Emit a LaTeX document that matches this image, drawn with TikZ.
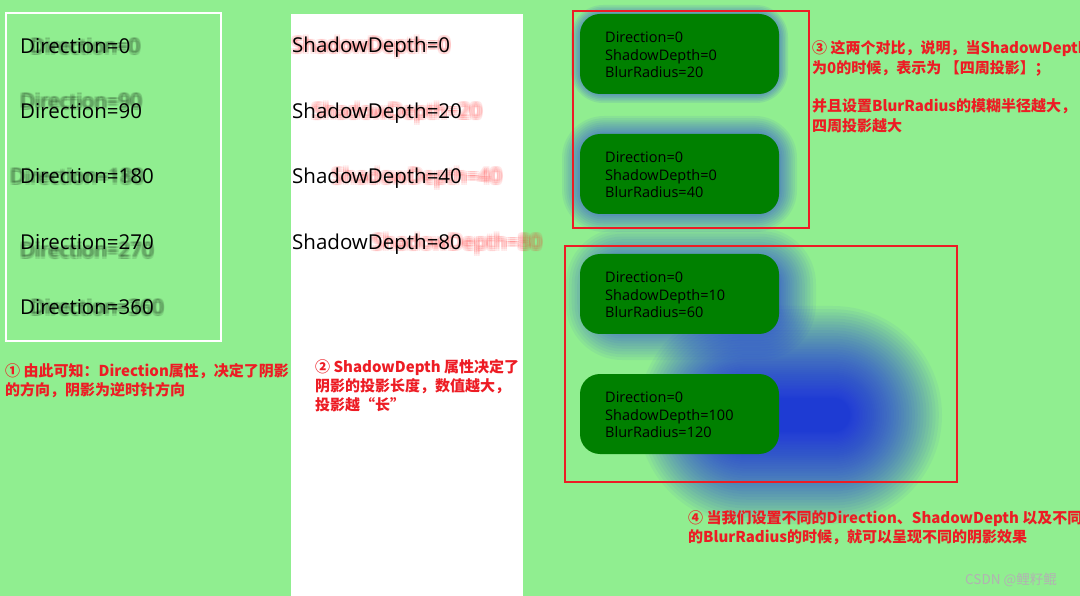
\documentclass[tikz,border=0pt]{standalone}
\usepackage{fontspec}
\setmainfont{Open Sans}
\newfontfamily\cjk{Noto Sans CJK SC}
\definecolor{bg}{RGB}{144,238,144}
\definecolor{boxgreen}{RGB}{0,128,0}
\definecolor{annot}{RGB}{237,28,36}
\definecolor{glowblue}{RGB}{30,50,230}
\definecolor{shadowred}{RGB}{255,30,30}
% #1..#4 inner rectangle, #5 spread, #6 steps, #7 opacity per layer, #8 corner radius, #9 exponent
\newcommand\glowbox[9]{%
  \foreach \i in {1,...,#6}{%
    \pgfmathsetmacro\dd{#5*(\i/#6)^#9}%
    \fill[glowblue, opacity=#7, rounded corners=#8+\dd] (#1-\dd,#2-\dd) rectangle (#3+\dd,#4+\dd);
  }}
\tikzset{
  lbl/.style={anchor=base west, inner sep=0pt, font=\fontsize{20.5}{20.5}\selectfont},
  note/.style={anchor=base west, inner sep=0pt, text=annot, font=\cjk\bfseries\fontsize{15}{19}\selectfont},
  gbox/.style={rectangle, fill=boxgreen, rounded corners=20pt, minimum width=199pt, minimum height=80pt, inner sep=0pt},
  btxt/.style={anchor=west, align=left, inner sep=0pt, text=black, font=\fontsize{14.5}{17.5}\selectfont},
  redframe/.style={draw=annot, line width=2pt}
}
\begin{document}
\begin{tikzpicture}[x=1pt,y=-1pt]
\useasboundingbox (0,0) rectangle (1080,596);
\fill[bg] (0,0) rectangle (1080,596);
\fill[white] (291,14) rectangle (523,596);
\draw[white, line width=2pt] (6,13) rectangle (221,341);

% left column: Direction labels with dark shadows
\foreach \yy/\dx/\dy/\t [count=\k] in {54/10/0/0, 119/0/-10/90, 184/-10/0/180, 250/0/8/270, 315/10/0/360}{
  \foreach \ox/\oy [count=\m] in {-1.5/-1.5, 0/-1.5, 1.5/-1.5, -1.5/0, 0/0, 1.5/0, -1.5/1.5, 0/1.5, 1.5/1.5}{
    \node[lbl, text=black, text opacity=0.09] (ds\k-\m) at (20+\dx+\ox, \yy+\dy+\oy) {Direction=\t};
  }
  \node[lbl] (d\k) at (20,\yy) {Direction=\t};
}

% middle column: ShadowDepth labels with red shadows
\foreach \yy/\dx/\t [count=\k] in {53/0/0, 119/20/20, 184/40/40, 250/80/80}{
  \foreach \ox/\oy [count=\m] in {-2/-2, 0/-2, 2/-2, -2/0, 0/0, 2/0, -2/2, 0/2, 2/2}{
    \node[lbl, text=shadowred, text opacity=0.1] (ss\k-\m) at (292+\dx+\ox, \yy+\oy) {ShadowDepth=\t};
  }
  \node[lbl] (s\k) at (292,\yy) {ShadowDepth=\t};
}

% glows (blurred drop shadows)
\glowbox{730}{398}{850}{432}{92}{46}{0.05}{17}{1.6}
\glowbox{602}{264}{780}{324}{36}{16}{0.055}{20}{1.3}
\glowbox{584}{138}{775}{210}{22}{12}{0.065}{20}{1.2}
\glowbox{583}{17}{776}{91}{12}{8}{0.085}{20}{1.1}

% red frames
\draw[redframe] (573,11) rectangle (809,228);
\draw[redframe] (565,246) rectangle (957,482);

% green boxes
\node[gbox] (b1) at (679.5,54) {};
\node[gbox] (b2) at (679.5,174) {};
\node[gbox] (b3) at (679.5,294) {};
\node[gbox] (b4) at (679.5,414) {};
\node[btxt] (t1) at (605,55) {Direction=0\\ShadowDepth=0\\BlurRadius=20};
\node[btxt] (t2) at (605,175) {Direction=0\\ShadowDepth=0\\BlurRadius=40};
\node[btxt] (t3) at (605,295) {Direction=0\\ShadowDepth=10\\BlurRadius=60};
\node[btxt] (t4) at (605,415) {Direction=0\\ShadowDepth=100\\BlurRadius=120};

% annotations
\node[note] (n1a) at (5,376.5) {① 由此可知：Direction属性，决定了阴影};
\node[note] (n1b) at (5,395.5) {的方向，阴影为逆时针方向};
\node[note] (n2a) at (315,372.5) {② ShadowDepth 属性决定了};
\node[note] (n2b) at (315,391.5) {阴影的投影长度，数值越大，};
\node[note] (n2c) at (315,410.5) {投影越“长”};
\node[note] (n3a) at (812,53.5) {③ 这两个对比，说明，当ShadowDepth};
\node[note] (n3b) at (812,73.5) {为0的时候，表示为 【四周投影】；};
\node[note] (n3c) at (812,111.5) {并且设置BlurRadius的模糊半径越大，};
\node[note] (n3d) at (812,131.5) {四周投影越大};
\node[note] (n4a) at (688,523.5) {④ 当我们设置不同的Direction、ShadowDepth 以及不同};
\node[note] (n4b) at (688,542.5) {的BlurRadius的时候，就可以呈现不同的阴影效果};

\node[anchor=base west, inner sep=0pt, text=black!30, font=\cjk\fontsize{13.5}{13.5}\selectfont] (wm) at (965,584) {CSDN @鲤籽鲲};
\end{tikzpicture}
\end{document}
